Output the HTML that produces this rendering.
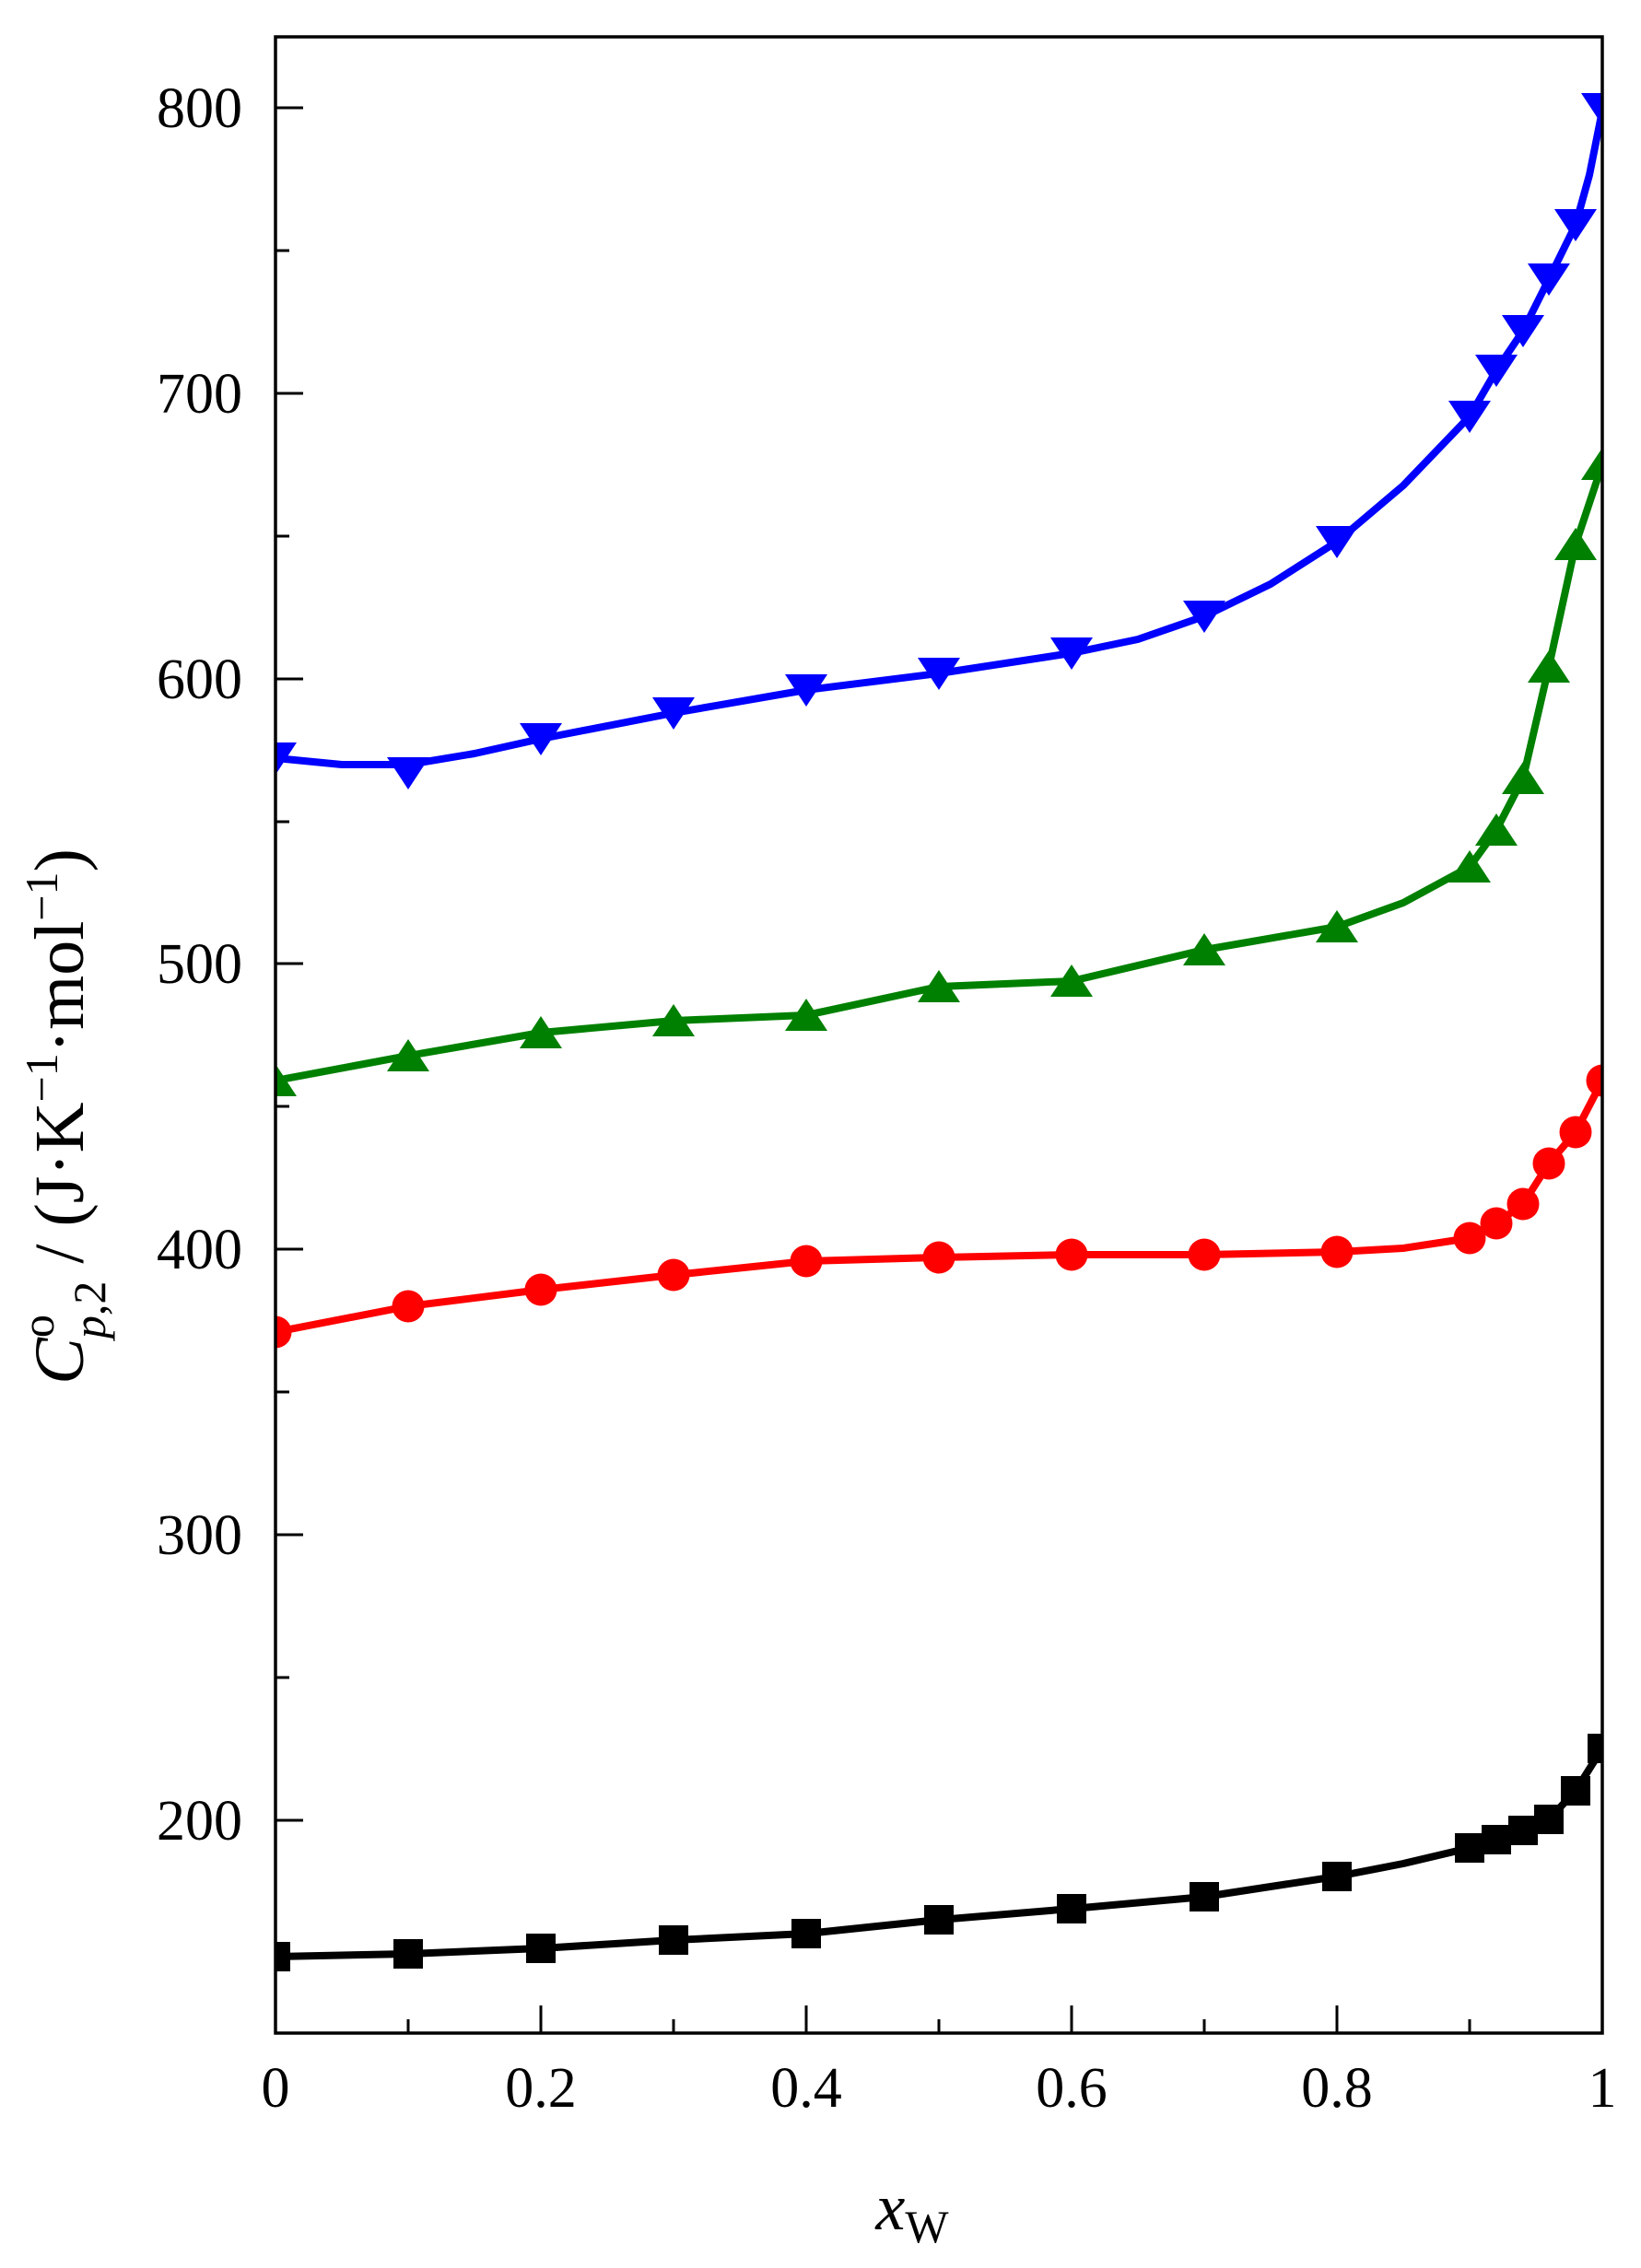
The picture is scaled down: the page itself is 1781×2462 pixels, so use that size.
<!DOCTYPE html>
<html><head><meta charset="utf-8"><style>html,body{margin:0;padding:0;background:#fff}svg{display:block}</style></head>
<body>
<svg width="1781" height="2462" viewBox="0 0 1781 2462" xmlns="http://www.w3.org/2000/svg" font-family="'Liberation Serif', serif">
<defs><clipPath id="c"><rect x="299" y="40" width="1440" height="2167"/></clipPath></defs>
<rect width="1781" height="2462" fill="#fff"/>
<g fill="none" stroke-width="8" stroke-linejoin="round" clip-path="url(#c)">
<polyline stroke="#000" points="299,2124 443,2121 587,2115 731,2106 875,2099 1019,2084 1163,2072 1307,2059 1451,2037 1523,2023 1595,2006 1624,1997 1653,1987 1681,1975 1710,1944 1739,1898"/>
<polyline stroke="#f00" points="299,1446 443,1418 587,1400 731,1384 875,1369 1019,1365 1163,1362 1307,1362 1451,1359 1523,1355 1595,1344 1624,1328 1653,1307 1681,1263 1710,1229 1739,1173"/>
<polyline stroke="#008000" points="299,1173 443,1146 587,1121 731,1108 875,1102 1019,1071 1163,1065 1307,1031 1451,1006 1523,980 1595,941 1624,901 1653,845 1681,724 1710,591 1739,504"/>
<polyline stroke="#00f" points="299,823 371,830 443,830 515,818 587,802 731,774 875,749 1019,731 1163,709 1235,694 1307,669 1379,634 1451,588 1523,527 1595,452 1624,402 1653,359 1681,303 1710,244 1725,190 1739,120"/>
</g>
<g clip-path="url(#c)">
<g fill="#000">
<rect x="283" y="2108" width="32" height="32"/><rect x="427" y="2105" width="32" height="32"/><rect x="571" y="2099" width="32" height="32"/><rect x="715" y="2090" width="32" height="32"/><rect x="859" y="2083" width="32" height="32"/><rect x="1003" y="2068" width="32" height="32"/><rect x="1147" y="2056" width="32" height="32"/><rect x="1291" y="2043" width="32" height="32"/><rect x="1435" y="2021" width="32" height="32"/><rect x="1579" y="1990" width="32" height="32"/><rect x="1608" y="1981" width="32" height="32"/><rect x="1637" y="1971" width="32" height="32"/><rect x="1665" y="1959" width="32" height="32"/><rect x="1694" y="1928" width="32" height="32"/><rect x="1723" y="1882" width="32" height="32"/>
</g>
<g fill="#f00">
<circle cx="299" cy="1446" r="17.5"/><circle cx="443" cy="1418" r="17.5"/><circle cx="587" cy="1400" r="17.5"/><circle cx="731" cy="1384" r="17.5"/><circle cx="875" cy="1369" r="17.5"/><circle cx="1019" cy="1365" r="17.5"/><circle cx="1163" cy="1362" r="17.5"/><circle cx="1307" cy="1362" r="17.5"/><circle cx="1451" cy="1359" r="17.5"/><circle cx="1595" cy="1344" r="17.5"/><circle cx="1624" cy="1328" r="17.5"/><circle cx="1653" cy="1307" r="17.5"/><circle cx="1681" cy="1263" r="17.5"/><circle cx="1710" cy="1229" r="17.5"/><circle cx="1739" cy="1173" r="17.5"/>
</g>
<g fill="#008000">
<path d="M299,1155l23,35h-46z M443,1128l23,35h-46z M587,1103l23,35h-46z M731,1090l23,35h-46z M875,1084l23,35h-46z M1019,1053l23,35h-46z M1163,1047l23,35h-46z M1307,1013l23,35h-46z M1451,988l23,35h-46z M1595,923l23,35h-46z M1624,883l23,35h-46z M1653,827l23,35h-46z M1681,706l23,35h-46z M1710,573l23,35h-46z M1739,486l23,35h-46z"/>
</g>
<g fill="#00f">
<path d="M299,841l23,-35h-46z M443,857l23,-35h-46z M587,820l23,-35h-46z M731,792l23,-35h-46z M875,767l23,-35h-46z M1019,749l23,-35h-46z M1163,727l23,-35h-46z M1307,687l23,-35h-46z M1451,606l23,-35h-46z M1595,470l23,-35h-46z M1624,420l23,-35h-46z M1653,377l23,-35h-46z M1681,321l23,-35h-46z M1710,262l23,-35h-46z M1739,136l23,-35h-46z"/>
</g>
</g>
<rect x="299" y="40" width="1440" height="2167" fill="none" stroke="#000" stroke-width="3.5"/>
<g stroke="#000" stroke-width="3">
<path d="M299,2207v-30 M587,2207v-30 M875,2207v-30 M1163,2207v-30 M1451,2207v-30 M1739,2207v-30 M443,2207v-15 M731,2207v-15 M1019,2207v-15 M1307,2207v-15 M1595,2207v-15"/>
<path d="M299,117h30 M299,427h30 M299,737h30 M299,1046h30 M299,1356h30 M299,1666h30 M299,1976h30 M299,272h15 M299,582h15 M299,892h15 M299,1201h15 M299,1511h15 M299,1821h15 M299,2131h15"/>
</g>
<g font-size="62" fill="#000" text-anchor="end">
<text x="263" y="138">800</text><text x="263" y="448">700</text><text x="263" y="758">600</text><text x="263" y="1067">500</text><text x="263" y="1377">400</text><text x="263" y="1687">300</text><text x="263" y="1997">200</text>
</g>
<g font-size="62" fill="#000" text-anchor="middle">
<text x="299" y="2287">0</text><text x="587" y="2287">0.2</text><text x="875" y="2287">0.4</text><text x="1163" y="2287">0.6</text><text x="1451" y="2287">0.8</text><text x="1739" y="2287">1</text>
</g>
<text x="990" y="2420" font-size="72" text-anchor="middle"><tspan font-style="italic">x</tspan><tspan font-size="50" dy="14">W</tspan></text>
<text transform="translate(90,1212) rotate(-90)" font-size="76" text-anchor="middle"><tspan font-style="italic">C</tspan><tspan font-size="50" dy="-32">o</tspan><tspan font-size="50" font-style="italic" dx="-26" dy="56">p</tspan><tspan font-size="50">,2</tspan><tspan dy="-24"> / (J·K</tspan><tspan font-size="50" dy="-28">−1</tspan><tspan dy="28">·mol</tspan><tspan font-size="50" dy="-28">−1</tspan><tspan dy="28">)</tspan></text>
</svg>
</body></html>
